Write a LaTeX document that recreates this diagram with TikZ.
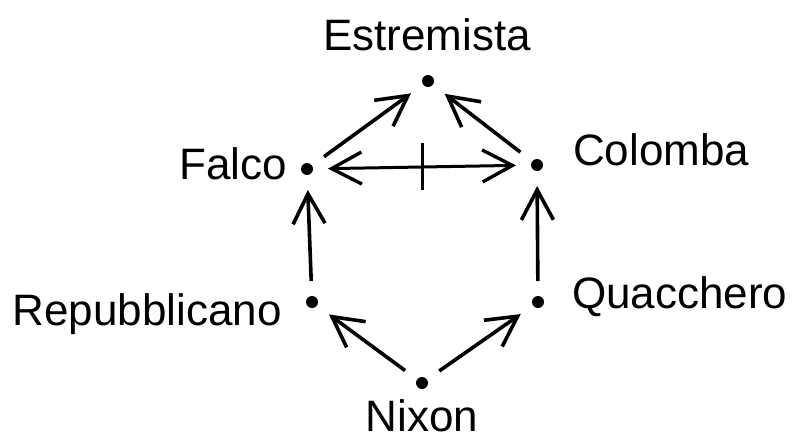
\documentclass[tikz,border=0pt]{standalone}
\usepackage{fontspec}
\setmainfont{Liberation Sans}
\usetikzlibrary{arrows.meta}
\begin{document}
\begin{tikzpicture}[x=1pt,y=-1pt,
  dot/.style={circle,fill=black,inner sep=0pt,minimum size=12pt,outer sep=15pt},
  lbl/.style={inner sep=0pt,font=\fontsize{44}{44}\selectfont},
  arr/.style={line width=3.6pt,-{Straight Barb[length=30pt,width=32pt,line width=3.6pt]}},
  darr/.style={line width=3pt,{Straight Barb[length=30pt,width=32pt,line width=3.4pt]}-{Straight Barb[length=30pt,width=32pt,line width=3.4pt]}}]
\useasboundingbox (0,0) rectangle (800,439);
\node[dot] (E) at (428,81) {};
\node[dot] (F) at (307,169) {};
\node[dot] (C) at (537,165) {};
\node[dot] (R) at (312,302) {};
\node[dot] (Q) at (538,302) {};
\node[dot] (N) at (422,383) {};
\node[lbl,anchor=base] (tE) at (427,50) {Estremista};
\node[lbl,anchor=base east] (tF) at (287,179) {Falco};
\node[lbl,anchor=base west] (tC) at (573,165) {Colomba};
\node[lbl,anchor=base east] (tR) at (282,325) {Repubblicano};
\node[lbl,anchor=base west] (tQ) at (572,308) {Quacchero};
\node[lbl,anchor=base] (tN) at (422,431) {Nixon};
\draw[arr] (F) -- (E);
\draw[arr] (C) -- (E);
\draw[arr] (R) -- (F);
\draw[arr] (Q) -- (C);
\draw[arr] (N) -- (R);
\draw[arr] (N) -- (Q);
\draw[darr] (F) -- (C) coordinate[pos=0.5] (m);
\draw[line width=3pt] ([yshift=24pt]m) -- ([yshift=-23pt]m);
\end{tikzpicture}
\end{document}
